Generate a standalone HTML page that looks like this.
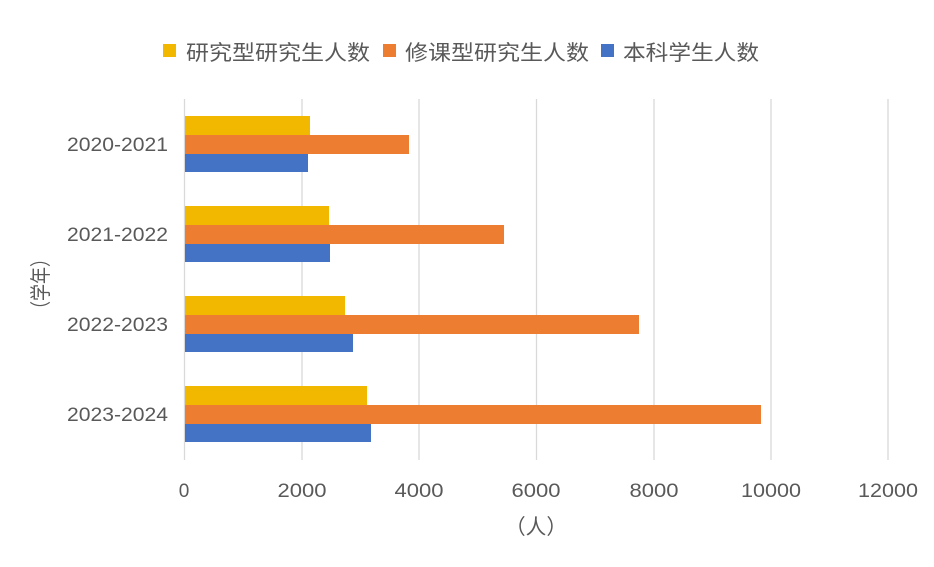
<!DOCTYPE html>
<html><head><meta charset="utf-8"><style>
body{margin:0;background:#fff}
svg text{font-family:"Liberation Sans","Noto Sans CJK SC",sans-serif;fill:#595959}
</style></head><body>
<svg width="934" height="562" viewBox="0 0 934 562" xmlns="http://www.w3.org/2000/svg">
<rect width="934" height="562" fill="#fff"/>
<g stroke="#d9d9d9" stroke-width="1.3">
<line x1="184.5" y1="99" x2="184.5" y2="460"/>
<line x1="302" y1="99" x2="302" y2="460"/>
<line x1="419" y1="99" x2="419" y2="460"/>
<line x1="536.5" y1="99" x2="536.5" y2="460"/>
<line x1="654" y1="99" x2="654" y2="460"/>
<line x1="771" y1="99" x2="771" y2="460"/>
<line x1="888" y1="99" x2="888" y2="460"/>
</g>
<g>
<rect x="185" y="116" width="125" height="19" fill="#f2b800"/>
<rect x="185" y="135" width="224" height="19" fill="#ed7d31"/>
<rect x="185" y="154" width="123" height="18" fill="#4472c4"/>
<rect x="185" y="206" width="144" height="19" fill="#f2b800"/>
<rect x="185" y="225" width="319" height="19" fill="#ed7d31"/>
<rect x="185" y="244" width="145" height="18" fill="#4472c4"/>
<rect x="185" y="296" width="160" height="19" fill="#f2b800"/>
<rect x="185" y="315" width="454" height="19" fill="#ed7d31"/>
<rect x="185" y="334" width="168" height="18" fill="#4472c4"/>
<rect x="185" y="386" width="182" height="19" fill="#f2b800"/>
<rect x="185" y="405" width="576" height="19" fill="#ed7d31"/>
<rect x="185" y="424" width="186" height="18" fill="#4472c4"/>
</g>
<g font-size="19">
<text x="67" y="151" textLength="101" lengthAdjust="spacingAndGlyphs">2020-2021</text>
<text x="67" y="241" textLength="101" lengthAdjust="spacingAndGlyphs">2021-2022</text>
<text x="67" y="331" textLength="101" lengthAdjust="spacingAndGlyphs">2022-2023</text>
<text x="67" y="421" textLength="101" lengthAdjust="spacingAndGlyphs">2023-2024</text>
</g>
<g font-size="19" text-anchor="middle">
<text x="184" y="497">0</text>
<text x="302" y="497" textLength="49" lengthAdjust="spacingAndGlyphs">2000</text>
<text x="419" y="497" textLength="49" lengthAdjust="spacingAndGlyphs">4000</text>
<text x="536" y="497" textLength="49" lengthAdjust="spacingAndGlyphs">6000</text>
<text x="654" y="497" textLength="49" lengthAdjust="spacingAndGlyphs">8000</text>
<text x="771" y="497" textLength="60" lengthAdjust="spacingAndGlyphs">10000</text>
<text x="888" y="497" textLength="60" lengthAdjust="spacingAndGlyphs">12000</text>
</g>
<text font-size="21" x="505" y="534" textLength="62" lengthAdjust="spacingAndGlyphs">（人）</text>
<text font-size="21" transform="translate(48,250) rotate(-90)" x="-68" y="0" textLength="68" lengthAdjust="spacingAndGlyphs" dy="0">（学年）</text>
<g font-size="21">
<rect x="163" y="44" width="13" height="13" fill="#f2b800"/>
<text x="186" y="60" textLength="184" lengthAdjust="spacingAndGlyphs">研究型研究生人数</text>
<rect x="383" y="44" width="13" height="13" fill="#ed7d31"/>
<text x="405" y="60" textLength="184" lengthAdjust="spacingAndGlyphs">修课型研究生人数</text>
<rect x="601" y="44" width="13" height="13" fill="#4472c4"/>
<text x="623" y="60" textLength="136" lengthAdjust="spacingAndGlyphs">本科学生人数</text>
</g>
</svg>
</body></html>
